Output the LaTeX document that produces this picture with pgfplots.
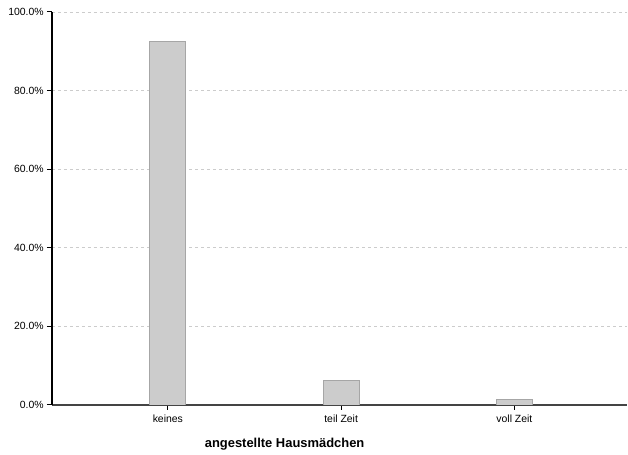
\documentclass[border=0pt]{standalone}
\usepackage{pgfplots}
\pgfplotsset{compat=1.18}
\usepackage{fontspec}
\setmainfont{Liberation Sans}
\definecolor{barfill}{HTML}{CCCCCC}
\definecolor{baredge}{HTML}{A6A6A6}
\definecolor{gridc}{HTML}{CCCCCC}
\definecolor{xaxc}{HTML}{444444}
\begin{document}
\begin{tikzpicture}
\begin{axis}[
  scale only axis, width=576bp, height=393.5bp,
  xmin=-0.669, xmax=2.651, ymin=0, ymax=100,
  axis x line*=bottom, axis y line*=left,
  x axis line style={draw=xaxc, line width=1.6bp},
  y axis line style={draw=black, line width=1.2bp},
  xtick={0,1,2}, xticklabels={keines,teil Zeit,voll Zeit},
  ytick={0,20,...,100},
  /pgf/number format/assume math mode=true,
  yticklabel={\pgfmathprintnumber[fixed,fixed zerofill,precision=1]{\tick}\%},
  tick align=outside, major tick length=5bp,
  tick style={black, line width=1bp},
  ymajorgrids, grid style={dashed, draw=gridc, line width=0.6bp},
  ticklabel style={font=\fontsize{10.5}{12}\selectfont},
  yticklabel style={inner sep=0pt, xshift=-3bp},
  xticklabel style={anchor=base, yshift=-13bp, inner sep=0pt},
  xlabel={angestellte Hausmädchen},
  xlabel style={font=\bfseries\fontsize{13}{15}\selectfont, at={(axis description cs:0.4045,0)}, anchor=base, yshift=-43bp, inner sep=0pt},
  ybar, bar width=36bp,
]
\addplot[fill=barfill, draw=baredge, line width=0.8bp] coordinates {(0,92.4) (1,6.3) (2,1.3)};
\end{axis}
\path (current axis.south west) ++(-52bp,-49.5bp) coordinate (bbsw);
\path (current axis.north east) ++(0,12bp) coordinate (bbne);
\path (bbsw) rectangle (bbne);
\end{tikzpicture}
\end{document}
